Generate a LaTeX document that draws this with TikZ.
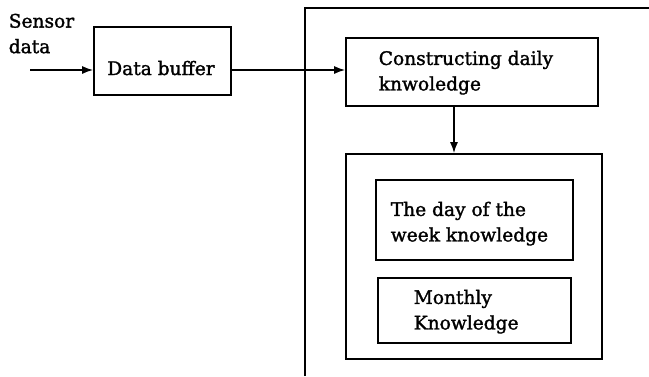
\documentclass[tikz,border=0pt]{standalone}
\usepackage{fontspec}
\setmainfont[FakeBold=1.6]{DejaVu Serif}
\usetikzlibrary{arrows.meta}
\begin{document}
\begin{tikzpicture}[x=1pt,y=-1pt,
  line width=1.6pt,
  every node/.style={font=\fontsize{18.6}{25.5}\selectfont},
  box/.style={draw, rectangle, inner sep=0pt, minimum width=#1},
  lbl/.style={align=left, inner sep=0pt, anchor=north west},
  arr/.style={-{Latex[length=11pt,width=8pt]}}]
\useasboundingbox (0,0) rectangle (649,376);
% outer frame (clipped by picture border)
\draw (305,376) -- (305,8) -- (649,8);
% boxes
\node[box=137, minimum height=68] (db) at (162.5,61) {};
\node[box=252, minimum height=68] (cd) at (472,72) {};
\node[box=256, minimum height=205] (mid) at (474,256.5) {};
\node[box=197, minimum height=80] (wk) at (474.5,220) {};
\node[box=193, minimum height=65] (mo) at (474.5,310.5) {};
% texts
\node[lbl] (tsd) at (8,13) {Sensor\\data};
\node[anchor=base, inner sep=0pt] (tdb) at (161,75) {Data buffer};
\node[lbl] (tcd) at (378,50) {Constructing daily\\knwoledge};
\node[lbl] (twk) at (390,201) {The day of the\\week knowledge};
\node[lbl] (tmo) at (413,289) {Monthly\\Knowledge};
% connectors
\coordinate (sin) at (30,70);
\draw[arr] (sin) -- (sin -| db.west);
\draw[arr] (db.east |- sin) -- (cd.west |- sin);
\draw[arr] (cd.south -| 454,0) -- (mid.north -| 454,0);
\end{tikzpicture}
\end{document}
